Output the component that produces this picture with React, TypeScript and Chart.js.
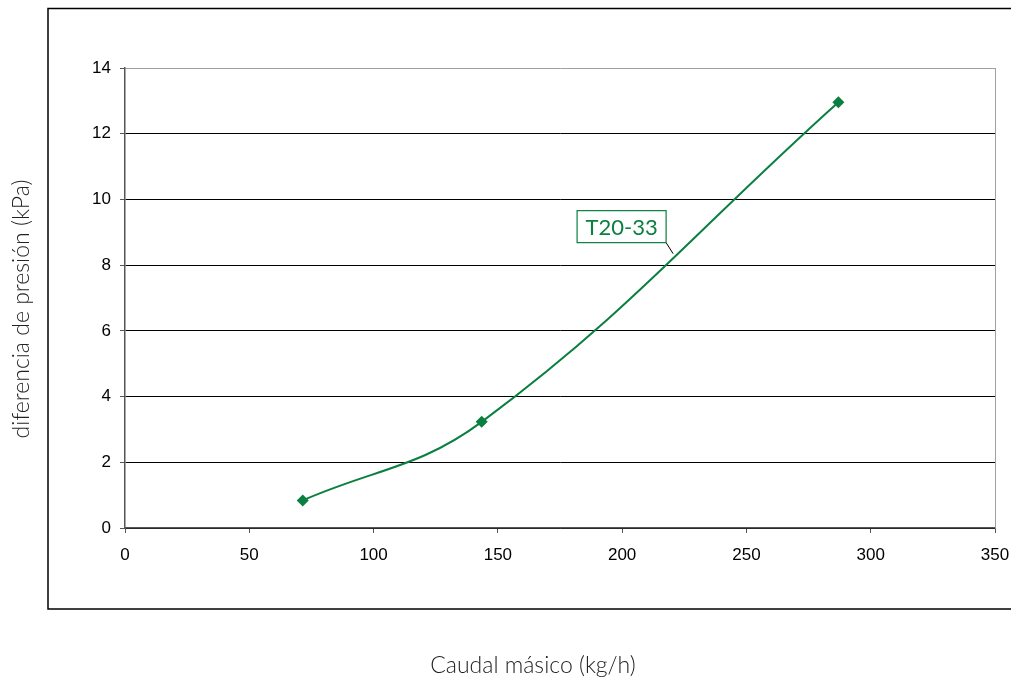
import React, { useEffect, useRef } from "react";
import { Chart, registerables } from "chart.js";

Chart.register(...registerables);

const seriesName = "T20-33";
const flowValues = [71.5, 143.5, 287];
const pressureValues = [0.84, 3.23, 12.96];
const xTickMin = 0;
const xTickMax = 350;
const xTickStep = 50;
const yTickMin = 0;
const yTickMax = 14;
const yTickStep = 2;
const xTitle = "Caudal másico (kg/h)";
const yTitle = "diferencia de presión (kPa)";
const labelAnchor = { x: 220.5, y: 8.35 };

const GREEN = "#0a7f40";

const decorPlugin = {
  id: "decor",
  beforeDatasetsDraw(chart: any) {
    const { ctx, chartArea } = chart;
    ctx.save();
    ctx.strokeStyle = "#a0a0a0";
    ctx.lineWidth = 1;
    ctx.beginPath();
    ctx.moveTo(Math.round(chartArea.right) + 0.5, chartArea.top);
    ctx.lineTo(Math.round(chartArea.right) + 0.5, chartArea.bottom);
    ctx.stroke();
    ctx.restore();
  },
  afterDraw(chart: any) {
    const { ctx } = chart;
    ctx.save();
    // outer frame
    ctx.strokeStyle = "#000";
    ctx.lineWidth = 1.5;
    ctx.strokeRect(48, 8.5, 1000, 600.5);

    // axis titles
    ctx.fillStyle = "#222";
    ctx.font = "300 23px Lato";
    ctx.textAlign = "center";
    ctx.textBaseline = "middle";
    ctx.fillText(xTitle, 533, 666);
    ctx.save();
    ctx.translate(22, 309);
    ctx.rotate(-Math.PI / 2);
    ctx.fillText(yTitle, 0, 0);
    ctx.restore();

    // series label with leader line
    const xs = chart.scales.x;
    const ys = chart.scales.y;
    const ax = xs.getPixelForValue(labelAnchor.x);
    const ay = ys.getPixelForValue(labelAnchor.y);
    const bx1 = ax - 7;
    const by1 = ay - 11;
    const bw = 89;
    const bh = 32;
    ctx.strokeStyle = "#000";
    ctx.lineWidth = 1;
    ctx.beginPath();
    ctx.moveTo(bx1, by1);
    ctx.lineTo(ax, ay);
    ctx.stroke();
    ctx.fillStyle = "#fff";
    ctx.fillRect(bx1 - bw, by1 - bh, bw, bh);
    ctx.strokeStyle = GREEN;
    ctx.lineWidth = 1.2;
    ctx.strokeRect(bx1 - bw, by1 - bh, bw, bh);
    ctx.fillStyle = GREEN;
    ctx.font = "22px Lato";
    ctx.textAlign = "center";
    ctx.textBaseline = "middle";
    ctx.fillText(seriesName, bx1 - bw / 2, by1 - bh / 2 + 1);
    ctx.restore();
  },
};

export default function App() {
  const ref = useRef<HTMLCanvasElement | null>(null);
  useEffect(() => {
    if (!ref.current) return;
    const chart = new Chart(ref.current, {
      type: "line",
      data: {
        datasets: [
          {
            label: seriesName,
            data: flowValues.map((x, i) => ({ x, y: pressureValues[i] })),
            borderColor: GREEN,
            backgroundColor: GREEN,
            borderWidth: 2,
            pointStyle: "rectRot",
            pointRadius: 6,
            pointBorderWidth: 0,
            tension: 0.4,
          },
        ],
      },
      options: {
        animation: false,
        responsive: false,
        devicePixelRatio: 1,
        layout: { padding: { left: 0, top: 68, right: 16, bottom: 0 } },
        plugins: { legend: { display: false }, tooltip: { enabled: false } },
        scales: {
          x: {
            type: "linear",
            min: xTickMin,
            max: xTickMax,
            ticks: {
              stepSize: xTickStep,
              color: "#000",
              font: { family: "Liberation Sans", size: 17 },
              padding: 12,
              maxRotation: 0,
            },
            grid: { drawOnChartArea: false, drawTicks: true, tickLength: 5, tickColor: "#555" },
            border: { display: true, color: "#555", width: 1.5 },
            afterFit(scale: any) {
              scale.height = 156;
              scale.paddingRight = 0;
              scale.paddingLeft = 0;
            },
          },
          y: {
            type: "linear",
            min: yTickMin,
            max: yTickMax,
            ticks: {
              stepSize: yTickStep,
              color: "#000",
              font: { family: "Liberation Sans", size: 17 },
              padding: 9,
            },
            grid: {
              color: (c: any) => (c.tick && c.tick.value === yTickMax ? "#a0a0a0" : "#000"),
              tickLength: 5,
              tickColor: "#555",
            },
            border: { display: true, color: "#555", width: 1.5 },
            afterFit(scale: any) {
              scale.width = 125;
              scale.paddingTop = 0;
              scale.paddingBottom = 0;
            },
          },
        },
      },
      plugins: [decorPlugin],
    } as any);
    return () => chart.destroy();
  }, []);
  return (
    <div style={{ position: "absolute", left: 0, top: 0, width: 1011, height: 684 }}>
      <canvas ref={ref} width={1011} height={684} style={{ display: "block", width: 1011, height: 684 }} />
    </div>
  );
}
